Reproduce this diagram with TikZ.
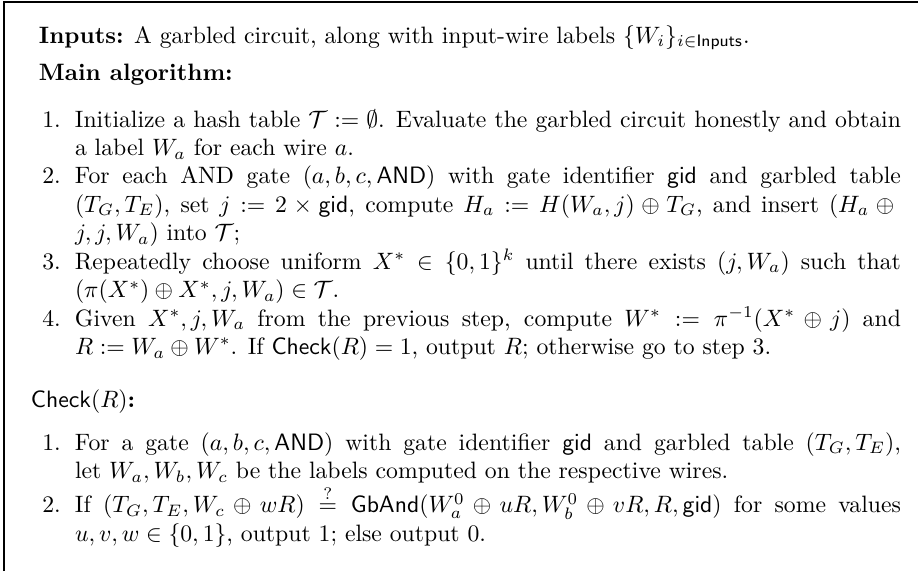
\documentclass[tikz,border=0pt]{standalone}
\usepackage{amsmath,amssymb}
% one drawing unit = one pixel of the final image
\newcommand{\pxu}{0.42194pt}
\newlength\itemw
\setlength\itemw{348.5pt}
\tikzset{
  frameline/.style={line width=0.55pt, black},
  para/.style={anchor=base west, inner sep=0pt, outer sep=0pt},
}
% a numbered step: number hangs in the left margin
\newcommand{\stepitem}[2]{\par\noindent\llap{#1\hspace{6pt}}#2}
\newcommand{\steplist}[1]{\parbox[t]{\itemw}{#1}}
\begin{document}
\begin{tikzpicture}[x=\pxu,y=-\pxu]
\useasboundingbox (0,0) rectangle (918,571);
% open frame: top and left rules only
\coordinate (fb) at (4,571);
\coordinate (fc) at (4,2);
\coordinate (fr) at (918,2);
\draw[frameline] (fb) -- (fc) -- (fr);

\node[para] (inputs) at (39,43)
  {\textbf{Inputs:} A garbled circuit, along with input-wire labels $\{W_i\}_{i\in\mathsf{Inputs}}$.};
\node[para] (mainhead) at (39,80) {\textbf{Main algorithm:}};

\node[para] (mainsteps) at (75,127) {\steplist{%
\stepitem{1.}{Initialize a hash table $\mathcal{T} := \emptyset$. Evaluate the garbled circuit honestly and obtain\linebreak a label $W_a$ for each wire $a$.}
\stepitem{2.}{For each AND gate $(a,b,c,\mathsf{AND})$ with gate identifier $\mathsf{gid}$ and garbled table\linebreak $(T_G,T_E)$, set $j := 2\times\mathsf{gid}$, compute $H_a := H(W_a,j)\oplus T_G$, and insert $(H_a\oplus{}$\linebreak $j,j,W_a)$ into $\mathcal{T}$;}
\stepitem{3.}{Repeatedly choose uniform $X^*\in\{0,1\}^k$ until there exists $(j,W_a)$ such that\linebreak $(\pi(X^*)\oplus X^*,j,W_a)\in\mathcal{T}$.}
\stepitem{4.}{Given $X^*,j,W_a$ from the previous step, compute $W^* := \pi^{-1}(X^*\oplus j)$ and\linebreak $R := W_a\oplus W^*$. If $\mathsf{Check}(R)=1$, output $R$; otherwise go to step 3.}}};

\node[para] (checkhead) at (31,407) {\textbf{$\mathsf{Check}(R)$:}};

\node[para] (checksteps) at (75,450) {\steplist{%
\stepitem{1.}{For a gate $(a,b,c,\mathsf{AND})$ with gate identifier $\mathsf{gid}$ and garbled table $(T_G,T_E)$,\linebreak let $W_a,W_b,W_c$ be the labels computed on the respective wires.}
\stepitem{2.}{If $(T_G,T_E,W_c\oplus wR)\stackrel{?}{=}\mathsf{GbAnd}(W_a^0\oplus uR,W_b^0\oplus vR,R,\mathsf{gid})$ for some values\linebreak $u,v,w\in\{0,1\}$, output 1; else output 0.}}};
\end{tikzpicture}
\end{document}
